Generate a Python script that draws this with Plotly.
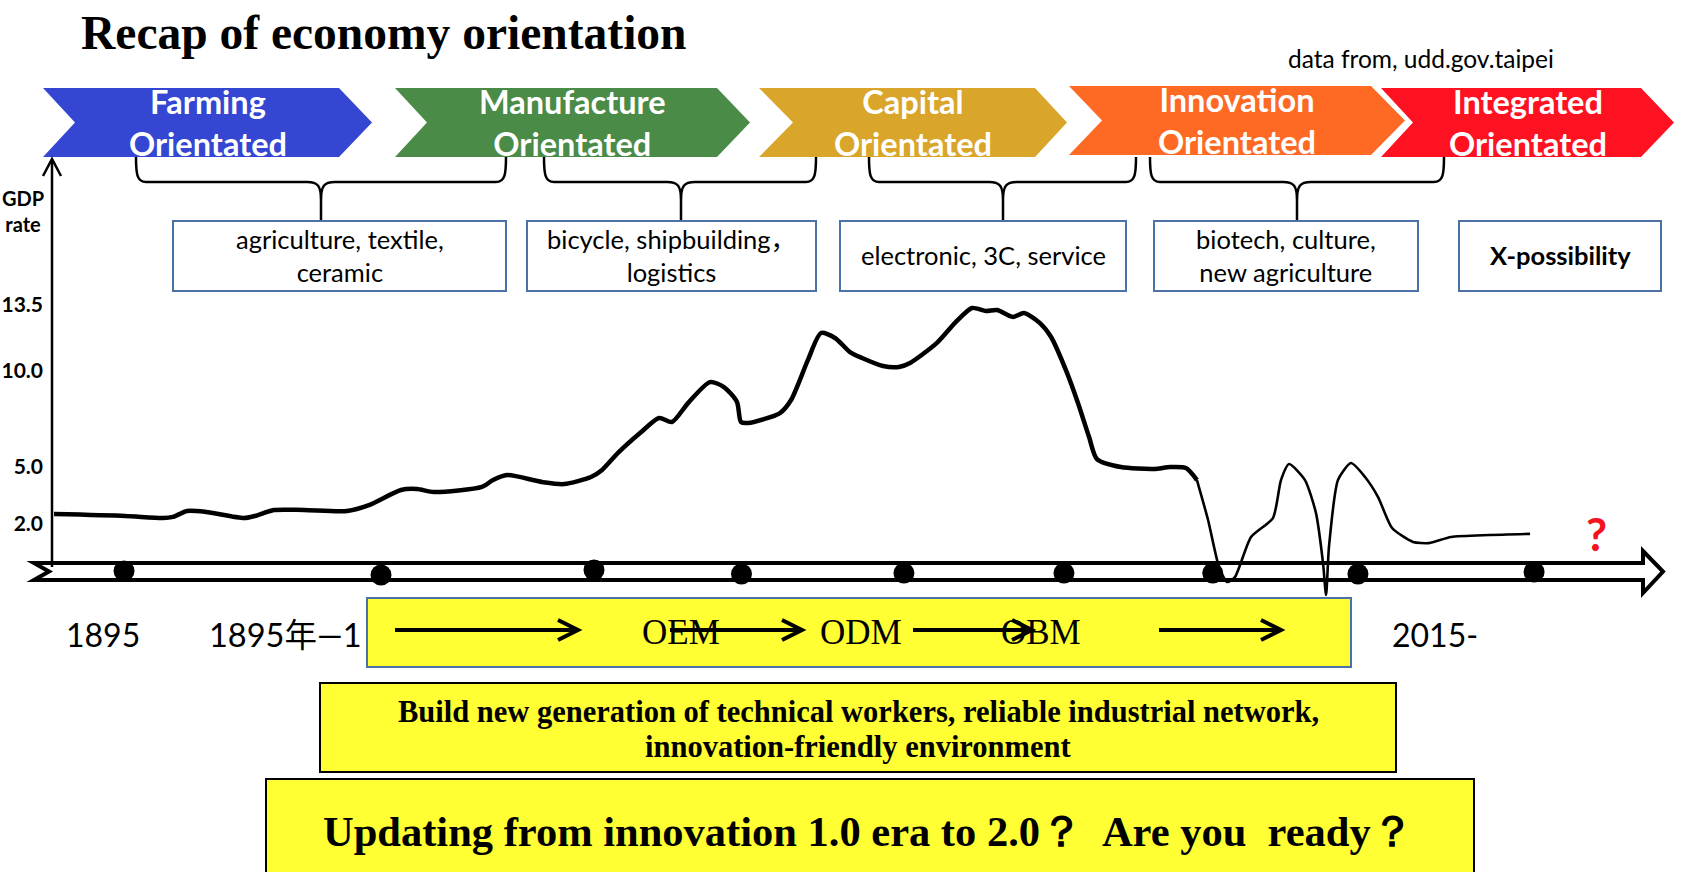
import plotly.graph_objects as go

W, H = 1688, 872

# ---------------------------------------------------------------- data
phases = ["Farming<br>Orientated", "Manufacture<br>Orientated", "Capital<br>Orientated",
          "Innovation<br>Orientated", "Integrated<br>Orientated"]
phase_colors = ["#3446D2", "#4A8B48", "#D9A52A", "#FE6A24", "#FE1222"]
industries = ["agriculture, textile,<br>ceramic", "bicycle, shipbuilding，<br>logistics",
              "electronic, 3C, service", "biotech, culture,<br>new agriculture",
              "<b>X-possibility</b>"]

gdp_tick_vals = [2.0, 5.0, 10.0, 13.5]
gdp_tick_text = ["2.0", "5.0", "10.0", "13.5"]

# GDP growth curve: position along the timeline (%) and GDP rate
timeline_pos = [0.87, 5.28, 7.64, 8.26, 9.13, 10.31, 12.67, 13.35, 14.53, 16.40, 19.07, 20.43,
                22.42, 23.42, 24.47, 27.45, 28.14, 29.01, 31.18, 32.55, 34.22, 34.91, 35.90,
                37.27, 38.45, 39.25, 40.25, 41.61, 42.48, 43.29, 43.54, 43.98, 45.96, 46.65,
                47.70, 48.51, 49.38, 50.31, 51.06, 52.36, 53.35, 54.04, 55.71, 56.89, 57.89,
                58.76, 59.44, 60.43, 61.12, 62.11, 62.80, 63.79, 64.47, 65.16, 65.65, 67.14,
                69.19, 70.19, 71.18, 71.86]
gdp_rate = [2.51, 2.41, 2.30, 2.36, 2.67, 2.62, 2.30, 2.41, 2.72, 2.72, 2.67, 2.98, 3.77, 3.82,
            3.66, 3.93, 4.29, 4.55, 4.19, 4.08, 4.45, 4.82, 5.71, 6.75, 7.54, 7.33, 8.32, 9.42,
            9.16, 8.38, 7.33, 7.28, 7.80, 8.48, 10.58, 11.99, 11.73, 10.99, 10.68, 10.26, 10.21,
            10.42, 11.47, 12.57, 13.30, 13.14, 13.19, 12.83, 13.04, 12.51, 11.78, 9.90, 8.32,
            6.54, 5.39, 4.97, 4.87, 4.97, 4.92, 4.29]
recent_pos = [71.86, 72.55, 73.23, 73.73, 74.22, 75.22, 76.58, 77.08, 77.58, 78.57, 79.25,
              79.69, 79.88, 80.06, 80.62, 81.43, 82.30, 83.11, 83.98, 85.28, 86.27, 87.64,
              90.00, 92.55]
recent_rate = [4.29, 2.20, -0.26, -1.05, -0.79, 1.31, 2.30, 4.29, 5.13, 4.29, 2.57, -0.05,
               -1.73, 0.79, 4.29, 5.18, 4.45, 3.40, 1.78, 1.05, 0.99, 1.31, 1.41, 1.47]

milestone_pos = [5.22, 21.18, 34.41, 43.57, 53.66, 63.60, 72.84, 81.86, 92.80]
milestone_rate = [-0.47, -0.68, -0.42, -0.63, -0.58, -0.58, -0.58, -0.63, -0.52]

year_labels = ["1895", "1895年—1", "2015-"]
business_models = ["OEM", "ODM", "OBM"]
goal_lines = ["Build new generation of technical workers, reliable industrial network,",
              "innovation-friendly environment"]
question = "Updating from innovation 1.0 era to 2.0？  Are you  ready？"

# ---------------------------------------------------------------- styles / layout geometry
SANS = "Lato, 'Noto Sans CJK SC', sans-serif"
SERIF = "'Liberation Serif', 'Times New Roman', serif"
BOX_LINE = "#4A72A6"
YELLOW = "#FFFF33"

TL_ORIGIN_PX, PX_PER_PCT = 40.0, 16.1      # timeline axis scale
GDP_ZERO_PX, PX_PER_GDP = 562.0, 19.1      # gdp axis scale

shapes, annots = [], []


def poly(pts):
    return "M " + " L ".join(f"{x},{y}" for x, y in pts) + " Z"


def ann(x, y, text, size, color="black", family=SANS, xanchor="center", yanchor="middle"):
    annots.append(dict(x=x, y=y, xref="x", yref="y", text=text, showarrow=False,
                       font=dict(size=size, color=color, family=family),
                       xanchor=xanchor, yanchor=yanchor))


# chevrons
chev_geom = [(43, 75, 339, 372, 88, 157), (395, 427, 717, 750, 88, 157),
             (759, 793, 1035, 1067, 88, 157), (1069, 1102, 1371, 1405, 86, 155),
             (1381, 1413, 1641, 1674, 88, 157)]
for (xl, xn, xc, xt, yt, yb), col, lab in zip(chev_geom, phase_colors, phases):
    ym = (yt + yb) / 2
    shapes.append(dict(type="path", xref="x", yref="y",
                       path=poly([(xl, yt), (xc, yt), (xt, ym), (xc, yb), (xl, yb), (xn, ym)]),
                       fillcolor=col, line=dict(width=0)))
    ann((xl + xt) / 2, ym, f"<b>{lab}</b>", 32.5, color="white")

# braces
brace_geom = [(136, 506, 321), (544, 816, 681), (869, 1136, 1003), (1150, 1444, 1297)]
yt, yh, yb = 157, 182, 221
for x0, x1, cx in brace_geom:
    p = (f"M {x0},{yt} C {x0},{yh-8} {x0+1},{yh} {x0+10},{yh} L {cx-14},{yh} "
         f"C {cx-3},{yh} {cx},{yh+4} {cx},{yh+18} L {cx},{yb} "
         f"M {cx},{yh+18} C {cx},{yh+4} {cx+3},{yh} {cx+14},{yh} "
         f"L {x1-10},{yh} C {x1-1},{yh} {x1},{yh-8} {x1},{yt}")
    shapes.append(dict(type="path", xref="x", yref="y", path=p,
                       fillcolor="rgba(0,0,0,0)", line=dict(color="black", width=2.5)))

# industry boxes
box_geom = [(173, 506), (527, 816), (840, 1126), (1154, 1418), (1459, 1661)]
for (x0, x1), txt in zip(box_geom, industries):
    shapes.append(dict(type="rect", xref="x", yref="y", x0=x0, x1=x1, y0=221, y1=291,
                       fillcolor="white", line=dict(color=BOX_LINE, width=2)))
    ann((x0 + x1) / 2, 255, txt, 25.5)

# title & source
ann(79, 33, "<b>Recap of economy orientation</b>", 47.5, family=SERIF, xanchor="left")
ann(1286, 58, "data from, udd.gov.taipei", 24.5, xanchor="left")

# GDP axis arrow
shapes.append(dict(type="line", xref="x", yref="y", x0=52, x1=52, y0=160, y1=567,
                   line=dict(color="black", width=2.5)))
shapes.append(dict(type="path", xref="x", yref="y", path="M 43,176 L 52,159 L 61,176",
                   fillcolor="rgba(0,0,0,0)", line=dict(color="black", width=2.5)))
ann(0, 211, "<b>GDP<br>rate</b>", 20, xanchor="left")

# timeline (hollow arrow)
shapes.append(dict(type="path", xref="x", yref="y", layer="below",
                   path=poly([(34, 563), (1643, 563), (1643, 551), (1663, 571.5), (1643, 593),
                              (1643, 580), (34, 580), (49, 571.5)]),
                   fillcolor="white", line=dict(color="black", width=4)))

# red question mark
ann(1596, 533, "<b>?</b>", 46, color="#F4121E")

# year labels
ann(103, 634, year_labels[0], 32)
ann(364, 634, year_labels[1], 32.5, xanchor="right")
ann(1390, 634, year_labels[2], 32, xanchor="left")

# yellow boxes
shapes.append(dict(type="rect", xref="x", yref="y", x0=367, x1=1351, y0=598, y1=667,
                   fillcolor=YELLOW, line=dict(color=BOX_LINE, width=2)))
shapes.append(dict(type="rect", xref="x", yref="y", x0=320, x1=1396, y0=683, y1=772,
                   fillcolor=YELLOW, line=dict(color="black", width=2)))
shapes.append(dict(type="rect", xref="x", yref="y", x0=266, x1=1474, y0=779, y1=890,
                   fillcolor=YELLOW, line=dict(color="black", width=2)))

for xc, lab in zip([681, 861, 1041], business_models):
    ann(xc, 632, lab, 35, family=SERIF)
for x0, x1 in [(395, 578), (670, 802), (913, 1032), (1159, 1281)]:
    shapes.append(dict(type="line", xref="x", yref="y", x0=x0, x1=x1 - 2, y0=630, y1=630,
                       line=dict(color="black", width=4)))
    shapes.append(dict(type="path", xref="x", yref="y",
                       path=f"M {x1-20},620 L {x1},630 L {x1-20},640",
                       fillcolor="rgba(0,0,0,0)", line=dict(color="black", width=4)))

for yy, line in zip([712, 746.5], goal_lines):
    ann(858, yy, f"<b>{line}</b>", 30.5, family=SERIF)
ann(868, 831, f"<b>{question}</b>", 42.5, family=SERIF)

# ---------------------------------------------------------------- figure
fig = go.Figure()
fig.add_trace(go.Scatter(x=[], y=[], xaxis="x", yaxis="y", showlegend=False))
fig.add_trace(go.Scatter(x=timeline_pos, y=gdp_rate, xaxis="x2", yaxis="y2", mode="lines",
                         line=dict(color="black", width=4.5, shape="spline", smoothing=0.7),
                         hoverinfo="skip", showlegend=False))
fig.add_trace(go.Scatter(x=recent_pos, y=recent_rate, xaxis="x2", yaxis="y2", mode="lines",
                         line=dict(color="black", width=2.6, shape="spline", smoothing=0.6),
                         hoverinfo="skip", showlegend=False))
fig.add_trace(go.Scatter(x=milestone_pos, y=milestone_rate, xaxis="x2", yaxis="y2",
                         mode="markers", marker=dict(size=21, color="black"),
                         hoverinfo="skip", showlegend=False))

fig.update_layout(
    width=W, height=H, margin=dict(l=0, r=0, t=0, b=0),
    paper_bgcolor="white", plot_bgcolor="white",
    xaxis=dict(range=[0, W], visible=False, fixedrange=True, domain=[0, 1]),
    yaxis=dict(range=[H, 0], visible=False, fixedrange=True, domain=[0, 1]),
    xaxis2=dict(overlaying="x", anchor="y2", visible=False, fixedrange=True,
                range=[(0 - TL_ORIGIN_PX) / PX_PER_PCT, (W - TL_ORIGIN_PX) / PX_PER_PCT]),
    yaxis2=dict(overlaying="y", anchor="free", position=52 / W, side="left",
                range=[(GDP_ZERO_PX - H) / PX_PER_GDP, GDP_ZERO_PX / PX_PER_GDP],
                tickvals=gdp_tick_vals, ticktext=[f"<b>{t}</b>" for t in gdp_tick_text],
                tickfont=dict(size=21, family=SANS, color="black"),
                showgrid=False, zeroline=False, showline=False, ticks="",
                ticklabelstandoff=9, fixedrange=True),
    shapes=shapes, annotations=annots, showlegend=False,
)

fig.write_html("out.html", config={"displayModeBar": False})
